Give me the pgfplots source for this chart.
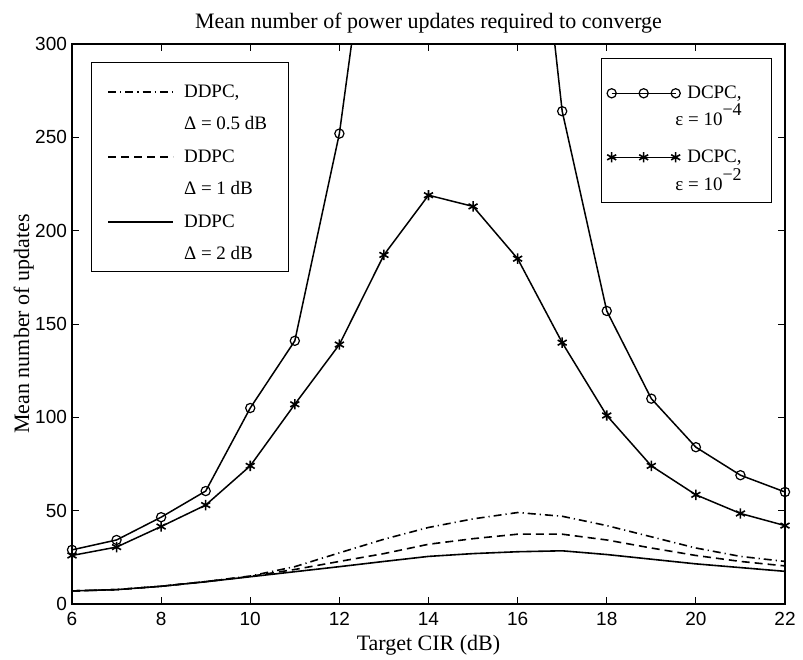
\documentclass[border=0pt]{standalone}
\usepackage{fontspec}
\setmainfont{Liberation Serif}
\newfontfamily\tickfont{Liberation Sans}
\usepackage{pgfplots}
\pgfplotsset{compat=1.18}
\begin{document}
\begin{tikzpicture}
\useasboundingbox (-36pt,-27.5pt) rectangle (365.5pt,302pt);
\begin{axis}[
  scale only axis, width=356.5pt, height=280pt,
  xmin=6, xmax=22, ymin=0, ymax=300,
  xtick={6,8,...,22}, ytick={0,50,...,300},
  tick align=inside, major tick length=3.5pt,
  tick style={black, line width=0.5pt},
  axis line style={black, line width=0.6pt},
  /pgf/number format/assume math mode=true,
  ticklabel style={font=\tickfont\fontsize{9.5}{11}\selectfont},
  xticklabel style={yshift=-0.5pt},
  yticklabel style={xshift=1pt},
  title={Mean number of power updates required to converge},
  title style={at={(axis description cs:0.5,1.0286)}, anchor=base, yshift=-6.5pt, font=\fontsize{11}{13}\selectfont},
  xlabel={Target CIR (dB)},
  xlabel style={at={(axis description cs:0.5,-0.0732)}, anchor=base, yshift=-3pt, font=\fontsize{11}{13}\selectfont},
  ylabel={Mean number of updates},
  ylabel style={at={(axis description cs:-0.0603,0.5)}, anchor=base, font=\fontsize{11}{13}\selectfont},
  legend image code/.code={\draw[#1] (0pt,2.6pt) -- (32.5pt,2.6pt);},
  legend style={at={(0.0266,0.968)}, anchor=north west, draw=black, line width=0.5pt,
    inner xsep=8pt, inner ysep=2pt, row sep=0pt, column sep=5pt,
    font=\fontsize{9.5}{10.5}\selectfont,
    cells={anchor=base west},
    nodes={inner sep=0pt, text height=9pt, text depth=7.2pt}},
]
\addplot[black, line width=0.8pt, dash pattern=on 4pt off 2pt on 0.6pt off 2pt] table {
6 7
7 7.7
8 9.5
9 12
10 15
11 20
12 27.4
13 34.7
14 41
15 45.6
16 49
17 47
18 42
19 36
20 30
21 25.5
22 22.8
};
\addlegendentry[text height=15.5pt, text depth=7.2pt]{DDPC,}
\addlegendimage{empty legend}
\addlegendentry[text height=9pt, text depth=7.2pt]{Δ = 0.5 dB\hspace*{2.5pt}}
\addplot[black, line width=0.8pt, dash pattern=on 4pt off 2.5pt] table {
6 7
7 7.7
8 9.5
9 12
10 14.8
11 18.5
12 22.8
13 27
14 32
15 35
16 37.4
17 37.4
18 34.3
19 30
20 26
21 22.8
22 20.4
};
\addlegendentry[text height=9pt, text depth=7.2pt]{DDPC}
\addlegendimage{empty legend}
\addlegendentry[text height=9pt, text depth=7.2pt]{Δ = 1 dB}
\addplot[black, line width=0.8pt] table {
6 7
7 7.7
8 9.5
9 11.9
10 14.6
11 17.3
12 20
13 22.8
14 25.5
15 27
16 28
17 28.5
18 26.5
19 24
20 21.5
21 19.5
22 17.5
};
\addlegendentry[text height=9pt, text depth=7.2pt]{DDPC}
\addlegendimage{empty legend}
\addlegendentry[text height=9pt, text depth=4pt]{Δ = 2 dB}
\addplot[black, line width=0.75pt, mark=o, mark size=2.3pt, mark options={solid, line width=0.6pt}, forget plot] table {
6 29
7 34.3
8 46.5
9 60.5
10 105
11 141
12 252
13 428
14 560
15 560
16 480
17 264
18 157
19 110
20 84
21 69
22 60
};
\addplot[black, line width=0.75pt, mark=asterisk, mark size=2.6pt, mark options={solid, line width=0.8pt}, forget plot] table {
6 26
7 30.5
8 41.5
9 53
10 74
11 107
12 139
13 187
14 219
15 213
16 185
17 140
18 101
19 74
20 58.5
21 48.5
22 42
};
\end{axis}
\begin{axis}[
  scale only axis, width=356.5pt, height=280pt,
  xmin=6, xmax=22, ymin=0, ymax=300,
  hide axis,
  legend image code/.code={\draw[mark repeat=1, mark phase=1, #1] plot coordinates {(0pt,2.6pt) (16pt,2.6pt) (32pt,2.6pt)};},
  legend style={at={(0.982,0.975)}, anchor=north east, draw=black, line width=0.5pt,
    inner xsep=3pt, inner ysep=2pt, row sep=0pt, column sep=3.5pt,
    font=\fontsize{9.5}{10.5}\selectfont,
    cells={anchor=base east},
    nodes={inner sep=0pt, text height=9.5pt, text depth=4pt}},
]
\addlegendimage{black, line width=0.6pt, mark=o, mark size=2.3pt, mark options={solid, line width=0.6pt}}
\addlegendentry[text height=18pt, text depth=4pt]{DCPC,\hspace*{12pt}}
\addlegendimage{empty legend}
\addlegendentry[text height=9.5pt, text depth=9pt]{\hspace*{-11pt}ε = 10\raisebox{0.5em}{\fontsize{9}{9}\selectfont −4}\hspace*{12pt}}
\addlegendimage{black, line width=0.6pt, mark=asterisk, mark size=2.6pt, mark options={solid, line width=0.8pt}}
\addlegendentry[text height=9.5pt, text depth=4.5pt]{DCPC,\hspace*{12pt}}
\addlegendimage{empty legend}
\addlegendentry[text height=9.5pt, text depth=4pt]{\hspace*{-11pt}ε = 10\raisebox{0.5em}{\fontsize{9}{9}\selectfont −2}\hspace*{12pt}}
\end{axis}
\end{tikzpicture}
\end{document}
